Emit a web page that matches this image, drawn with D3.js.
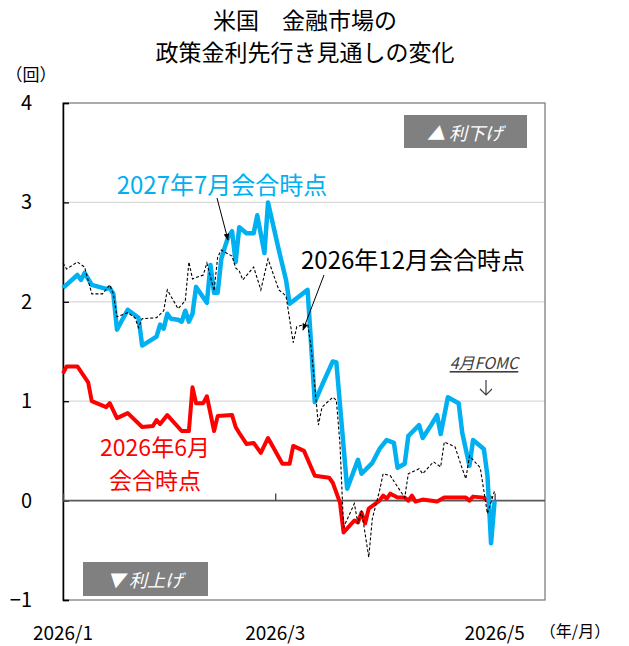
<!DOCTYPE html>
<html>
<head>
<meta charset="utf-8">
<title>米国 金融市場の政策金利先行き見通し</title>
<script src="https://d3js.org/d3.v7.min.js"></script>
<style>
  body { margin: 0; background: #fff; }
  svg text { font-family: "Noto Sans CJK JP", "Noto Sans", sans-serif; }
</style>
</head>
<body>
<svg id="chart" width="629" height="646"></svg>
<script>

// 2027年7月会合時点（利下げ回数）
var jul27Dates = ["1/1","1/5","1/6","1/7","1/9","1/13","1/14","1/15","1/16","1/19","1/22","1/23","1/27","1/28","1/29","1/30","1/31","2/2","2/3","2/4","2/5","2/6","2/7","2/10","2/11","2/12","2/13","2/14","2/15","2/16","2/17","2/18","2/19","2/21","2/23","2/24","2/26","2/27","3/2","3/3","3/4","3/5","3/10","3/12","3/14","3/17","3/18","3/21","3/24","3/25","3/28","3/30","4/1","4/3","4/4","4/6","4/7","4/10","4/11","4/13","4/15","4/16","4/18","4/21","4/22","4/24","4/25","4/28","4/29","4/30","5/1"];
var jul27Vals = [2.14,2.27,2.22,2.29,2.17,2.13,2.14,2.08,1.72,1.92,1.84,1.56,1.65,1.77,1.73,1.88,1.83,1.82,1.80,1.91,1.80,1.88,2.15,1.99,2.37,2.09,2.09,2.43,2.55,2.66,2.71,2.40,2.75,2.69,2.69,2.87,2.49,3.00,2.52,2.37,2.22,1.98,2.12,0.99,1.16,1.40,1.39,0.12,0.41,0.27,0.38,0.52,0.61,0.58,0.33,0.37,0.65,0.76,0.63,0.74,0.86,0.67,1.04,0.98,0.68,0.35,0.61,0.52,0.25,-0.43,0.00];

// 2026年12月会合時点
var dec26Dates = ["1/1","1/2","1/5","1/7","1/9","1/12","1/14","1/15","1/16","1/19","1/21","1/22","1/23","1/27","1/29","1/30","2/2","2/4","2/5","2/6","2/9","2/10","2/12","2/13","2/14","2/15","2/17","2/18","2/19","2/20","2/23","2/25","2/27","3/2","3/4","3/6","3/7","3/10","3/11","3/13","3/14","3/17","3/18","3/19","3/20","3/23","3/24","3/25","3/27","3/28","3/30","3/31","4/2","4/6","4/7","4/10","4/11","4/14","4/16","4/17","4/20","4/22","4/23","4/24","4/27","4/29","5/1"];
var dec26Vals = [2.39,2.33,2.40,2.35,2.08,2.08,2.17,2.08,1.85,1.89,1.84,1.74,1.83,1.84,1.91,2.12,1.93,2.01,2.40,2.23,2.27,2.39,2.11,2.45,2.52,2.50,2.46,2.34,2.31,2.22,2.35,2.12,2.43,2.12,2.06,1.59,1.75,1.78,1.54,0.76,0.94,1.04,1.01,0.57,-0.27,-0.03,-0.23,-0.10,-0.57,-0.18,0.10,0.27,0.25,0.03,0.27,0.32,0.27,0.39,0.34,0.59,0.54,0.32,0.22,0.45,0.33,-0.13,0.10];

// 2026年6月会合時点
var jun26Dates = ["1/1","1/2","1/5","1/8","1/9","1/13","1/14","1/16","1/19","1/23","1/26","1/27","1/28","1/30","2/3","2/5","2/6","2/7","2/9","2/10","2/12","2/13","2/17","2/18","2/19","2/21","2/23","2/25","2/27","3/3","3/5","3/6","3/9","3/12","3/16","3/17","3/19","3/20","3/23","3/24","3/25","3/26","3/27","3/30","3/31","4/1","4/2","4/4","4/6","4/7","4/8","4/9","4/11","4/15","4/17","4/23","4/24","4/25","4/28","4/29","4/30"];
var jun26Vals = [1.28,1.35,1.35,1.19,1.00,0.94,0.98,0.83,0.88,0.74,0.75,0.81,0.77,0.86,0.70,0.70,1.14,0.98,0.98,1.05,0.70,0.85,0.86,0.74,0.68,0.57,0.58,0.48,0.63,0.37,0.37,0.55,0.50,0.25,0.23,0.18,-0.02,-0.32,-0.20,-0.22,-0.12,-0.23,-0.08,0.00,0.05,0.02,0.07,0.03,0.03,0.00,0.05,-0.01,0.01,-0.01,0.03,0.03,0.00,0.04,0.03,0.00,0.05];

var yTicks = [-1, 0, 1, 2, 3, 4];
var xTickDates = ["1/1", "3/1", "5/1"];
var xTickLabels = ["2026/1", "2026/3", "2026/5"];

var parse = d3.timeParse("%Y/%m/%d");
function day(s) { return parse("2026/" + s); }
function pairs(dates, vals) {
  return dates.map(function (d, i) { return { date: day(d), v: vals[i] }; });
}

var svg = d3.select("#chart");
var plotL = 63, plotR = 545, plotT = 103, plotB = 600;

var x = d3.scaleTime().domain([day("1/1"), day("5/15")]).range([plotL, plotR]);
var y = d3.scaleLinear().domain([-1, 4]).range([plotB, plotT]);

/* title */
svg.append("text").attr("x", 305).attr("y", 29).attr("text-anchor", "middle")
  .style("font-size", "23px").text("米国\u3000金融市場の");
svg.append("text").attr("x", 305).attr("y", 61).attr("text-anchor", "middle")
  .style("font-size", "23px").text("政策金利先行き見通しの変化");

svg.append("text").attr("x", 31).attr("y", 81).attr("text-anchor", "middle")
  .style("font-size", "17px").text("（回）");

/* grid */
svg.append("g").selectAll("line")
  .data([1, 2, 3]).enter().append("line")
  .attr("x1", plotL).attr("x2", plotR)
  .attr("y1", function (d) { return y(d); })
  .attr("y2", function (d) { return y(d); })
  .style("stroke", "#d9d9d9").style("stroke-width", 1.3);

/* plot frame */
svg.append("rect").attr("x", plotL).attr("y", plotT)
  .attr("width", plotR - plotL).attr("height", plotB - plotT)
  .style("fill", "none").style("stroke", "#7f7f7f").style("stroke-width", 1.3);

/* boxes */
svg.append("rect").attr("x", 404).attr("y", 115).attr("width", 123).attr("height", 33)
  .style("fill", "#808080");
svg.append("text").attr("x", 465).attr("y", 132).attr("text-anchor", "middle")
  .attr("dominant-baseline", "central")
  .style("font-size", "18px").style("font-style", "italic").style("fill", "#fff")
  .text("▲ 利下げ");
svg.append("rect").attr("x", 83).attr("y", 562).attr("width", 125).attr("height", 34)
  .style("fill", "#808080");
svg.append("text").attr("x", 145).attr("y", 579).attr("text-anchor", "middle")
  .attr("dominant-baseline", "central")
  .style("font-size", "18px").style("font-style", "italic").style("fill", "#fff")
  .text("▼ 利上げ");

/* y axis */
var yAxis = svg.append("g").attr("transform", "translate(" + plotL + ",0)")
  .call(d3.axisLeft(y).tickValues(yTicks).tickSize(-6).tickPadding(31)
    .tickFormat(d3.format("d")));
yAxis.select(".domain").style("stroke", "#000").style("stroke-width", 1.5);
yAxis.selectAll(".tick line").style("stroke", "#000").style("stroke-width", 1.3);
yAxis.selectAll("text").style("font-size", "20px").style("fill", "#000")
  .style("font-family", "\"Noto Sans CJK JP\", sans-serif");

/* zero line with month ticks */
var xAxis = svg.append("g").attr("transform", "translate(0," + y(0) + ")")
  .call(d3.axisBottom(x).tickValues(xTickDates.map(day)).tickSize(-7).tickFormat(""));
xAxis.select(".domain").attr("d", "M" + plotL + ",0H" + plotR)
  .style("stroke", "#595959").style("stroke-width", 1.6);
xAxis.selectAll(".tick line").style("stroke", "#404040").style("stroke-width", 1.3);

svg.append("g").selectAll("text")
  .data(xTickDates).enter().append("text")
  .attr("x", function (d) { return x(day(d)); })
  .attr("y", 631).attr("text-anchor", "middle").attr("dominant-baseline", "central")
  .style("font-size", "19px")
  .text(function (d, i) { return xTickLabels[i]; });
svg.append("text").attr("x", 575).attr("y", 630).attr("text-anchor", "middle")
  .attr("dominant-baseline", "central").style("font-size", "16px").text("（年/月）");

/* lines */
var line = d3.line()
  .x(function (d) { return x(d.date); })
  .y(function (d) { return y(d.v); });

svg.append("path").datum(pairs(jun26Dates, jun26Vals)).attr("d", line)
  .style("fill", "none").style("stroke", "#ff0000").style("stroke-width", 4)
  .style("stroke-linejoin", "round");
svg.append("path").datum(pairs(jul27Dates, jul27Vals)).attr("d", line)
  .style("fill", "none").style("stroke", "#00b0f0").style("stroke-width", 4.5)
  .style("stroke-linejoin", "round");
svg.append("path").datum(pairs(dec26Dates, dec26Vals)).attr("d", line)
  .style("fill", "none").style("stroke", "#000").style("stroke-width", 1.1)
  .style("stroke-dasharray", "3,2");

/* labels & arrows */
svg.append("defs").append("marker")
  .attr("id", "head").attr("viewBox", "0 0 10 10").attr("refX", 9).attr("refY", 5)
  .attr("markerWidth", 7).attr("markerHeight", 7).attr("orient", "auto")
  .append("path").attr("d", "M0,1L10,5L0,9Z").style("fill", "#000");

svg.append("text").attr("x", 222).attr("y", 183).attr("text-anchor", "middle")
  .attr("dominant-baseline", "central")
  .style("font-size", "24px").style("fill", "#00b0f0").text("2027年7月会合時点");
svg.append("line").attr("x1", 217).attr("y1", 198).attr("x2", 228).attr("y2", 240)
  .attr("marker-end", "url(#head)").style("stroke", "#000").style("stroke-width", 1);

svg.append("text").attr("x", 413).attr("y", 258).attr("text-anchor", "middle")
  .attr("dominant-baseline", "central")
  .style("font-size", "24px").style("fill", "#000").text("2026年12月会合時点");
svg.append("line").attr("x1", 324).attr("y1", 275).attr("x2", 303).attr("y2", 330)
  .attr("marker-end", "url(#head)").style("stroke", "#000").style("stroke-width", 1);

svg.append("text").attr("x", 155).attr("y", 446).attr("text-anchor", "middle")
  .attr("dominant-baseline", "central")
  .style("font-size", "23px").style("fill", "#ff0000").text("2026年6月");
svg.append("text").attr("x", 155).attr("y", 479).attr("text-anchor", "middle")
  .attr("dominant-baseline", "central")
  .style("font-size", "23px").style("fill", "#ff0000").text("会合時点");

svg.append("text").attr("x", 484).attr("y", 362).attr("text-anchor", "middle")
  .attr("dominant-baseline", "central")
  .style("font-size", "16px").style("font-style", "italic").style("fill", "#404040")
  .style("text-decoration", "underline").text("4月FOMC");
svg.append("path").attr("d", "M486,380V395M480,389L486,395L492,389")
  .style("fill", "none").style("stroke", "#404040").style("stroke-width", 1.2);

</script>
</body>
</html>
